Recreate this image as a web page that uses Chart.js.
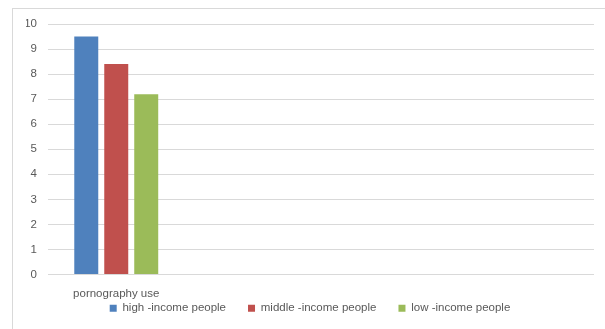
<!DOCTYPE html>
<html>
<head>
<meta charset="utf-8">
<script src="https://cdn.jsdelivr.net/npm/chart.js@4/dist/chart.umd.min.js"></script>
<style>
  html, body { margin: 0; padding: 0; background: #ffffff; }
  #wrap { position: relative; width: 605px; height: 329px; overflow: hidden; }
  #frame { position: absolute; left: 12px; top: 8px; width: 700px; height: 400px; border: 1px solid #d9d9d9; box-sizing: border-box; }
  #c { position: absolute; left: 0; top: 0; }
</style>
</head>
<body>
<div id="wrap">
  <div id="frame"></div>
  <canvas id="c" width="605" height="329"></canvas>
</div>
<script>
const categories = ["pornography use", "", "", ""];
const seriesNames = ["high -income people", "middle -income people", "low -income people"];
const highIncome = [9.5];
const middleIncome = [8.4];
const lowIncome = [7.2];
const yTicks = [0, 1, 2, 3, 4, 5, 6, 7, 8, 9, 10];

const FONT = "'Liberation Sans', Arial, sans-serif";
const colors = ["#4f81bd", "#c0504d", "#9bbb59"];

new Chart(document.getElementById('c'), {
  type: 'bar',
  data: {
    labels: categories,
    datasets: [
      { label: seriesNames[0], data: highIncome, backgroundColor: colors[0] },
      { label: seriesNames[1], data: middleIncome, backgroundColor: colors[1] },
      { label: seriesNames[2], data: lowIncome, backgroundColor: colors[2] }
    ]
  },
  options: {
    responsive: false,
    animation: false,
    devicePixelRatio: 1,
    layout: { padding: { left: 26, right: 11, top: 24, bottom: 5 } },
    datasets: { bar: { categoryPercentage: 0.659, barPercentage: 0.8, borderWidth: 0 } },
    plugins: {
      tooltip: { enabled: false },
      legend: {
        position: 'bottom',
        labels: {
          boxWidth: 7, boxHeight: 7, padding: 22,
          color: '#595959',
          font: { family: FONT, size: 11.5 }
        }
      }
    },
    scales: {
      x: {
        grid: { display: false, drawTicks: false },
        border: { display: false },
        ticks: { color: '#595959', font: { family: FONT, size: 11.5 }, padding: -25.9, mirror: true, maxRotation: 0, autoSkip: false },
        afterFit: (s) => { s.height = 6; }
      },
      y: {
        min: 0, max: 10,
        grid: { color: '#d9d9d9', drawTicks: false, lineWidth: 1 },
        border: { display: false },
        afterBuildTicks: (s) => { s.ticks = yTicks.map(v => ({ value: v })); },
        ticks: { color: '#595959', font: { family: FONT, size: 11.5 }, padding: 11 },
        afterFit: (s) => { s.width = 22; }
      }
    }
  }
});
</script>
</body>
</html>
